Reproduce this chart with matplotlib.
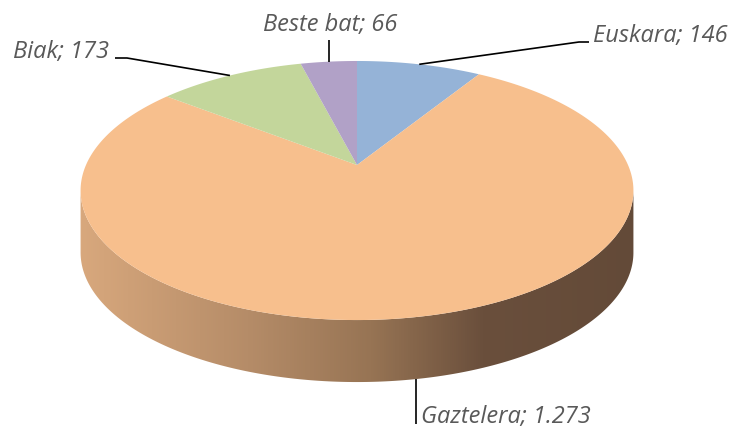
import numpy as np
import matplotlib
matplotlib.use("Agg")
import matplotlib.pyplot as plt
from matplotlib.patches import Polygon, PathPatch
from matplotlib.path import Path
from matplotlib.colors import LinearSegmentedColormap

# Hizkuntza datuak
labels = ["Euskara", "Gaztelera", "Biak", "Beste bat"]
values = [146, 1273, 173, 66]
value_text = ["146", "1.273", "173", "66"]
top_colors = ["#95B3D7", "#F7BF8D", "#C3D69B", "#B1A1C7"]

# Disk projection parameters (pixel space)
CX, CY = 357.0, 165.0
A, B = 271.0, 124.5
P = 0.197          # perspective strength
DEPTH = 62.0       # thickness of the side wall


def proj(theta_deg, dy=0.0):
    """Clockwise angle from 12 o'clock -> screen position of the disk rim."""
    t = np.radians(theta_deg)
    u, v = np.sin(t), np.cos(t)
    w = 1 + P * v
    return CX + A * u / w, CY - B * v / w + dy


fig = plt.figure(figsize=(7.34, 4.28), dpi=100)
ax = fig.add_axes([0, 0, 1, 1])
ax.set_xlim(0, 734)
ax.set_ylim(428, 0)
ax.axis("off")

# side wall: front half of the rim, between the leftmost and rightmost points
th = np.linspace(0, 360, 3601)
xs, _ = proj(th)
i_right, i_left = np.argmax(xs), np.argmin(xs)
front = np.linspace(th[i_right], th[i_left], 600)
tx, ty = proj(front)
bx, by = proj(front[::-1], DEPTH)
side_pts = np.column_stack([np.r_[tx, bx], np.r_[ty, by]])
side_patch = PathPatch(Path(np.vstack([side_pts, side_pts[:1]]), closed=True),
                       facecolor="none", edgecolor="none")
ax.add_patch(side_patch)

side_cmap = LinearSegmentedColormap.from_list(
    "side",
    [(0.0, "#D8A87D"), (0.3, "#B58C68"), (0.52, "#977454"),
     (0.72, "#6A4F3C"), (1.0, "#634A38")])
grad = np.linspace(0, 1, 512).reshape(1, -1)
img = ax.imshow(grad, cmap=side_cmap, aspect="auto",
                extent=(80, 640, 460, 150), zorder=1)
img.set_clip_path(side_patch)

# top face slices
bounds = np.r_[0, np.cumsum(values)] / sum(values) * 360
for start, end, col in zip(bounds[:-1], bounds[1:], top_colors):
    arc = np.linspace(start, end, max(int((end - start) * 4), 8))
    px, py = proj(arc)
    pts = np.column_stack([np.r_[CX, px], np.r_[CY, py]])
    ax.add_patch(Polygon(pts, closed=True, facecolor=col, edgecolor="none",
                         zorder=2, antialiased=True))

# data labels with leader lines
mids = (bounds[:-1] + bounds[1:]) / 2
text_kw = dict(fontsize=17, style="italic", color="#595959",
               family="Open Sans", va="baseline", zorder=4)
line_kw = dict(color="black", lw=1.2, zorder=3, solid_capstyle="butt")

# Euskara
ax0, ay0 = proj(mids[0])
ax.plot([ax0, 579, 589], [ay0, 42, 42], **line_kw)
ax.text(593, 42, f"{labels[0]}; {value_text[0]}", ha="left", **text_kw)

# Gaztelera (anchor sits on the lower rim of the side wall)
ax1, ay1 = proj(mids[1], DEPTH)
ax.plot([ax1, ax1], [ay1, 424], **line_kw)
ax.text(ax1 + 5, 423, f"{labels[1]}; {value_text[1]}", ha="left", **text_kw)

# Biak
ax2, ay2 = proj(mids[2])
ax.plot([ax2, 127, 115], [ay2, 58, 58], **line_kw)
ax.text(109, 58, f"{labels[2]}; {value_text[2]}", ha="right", **text_kw)

# Beste bat
ax3, ay3 = proj(mids[3])
ax.plot([ax3, ax3], [ay3, 40], **line_kw)
ax.text(ax3 + 1, 31, f"{labels[3]}; {value_text[3]}", ha="center", **text_kw)

fig.savefig("out.png", dpi=100, facecolor="white")
